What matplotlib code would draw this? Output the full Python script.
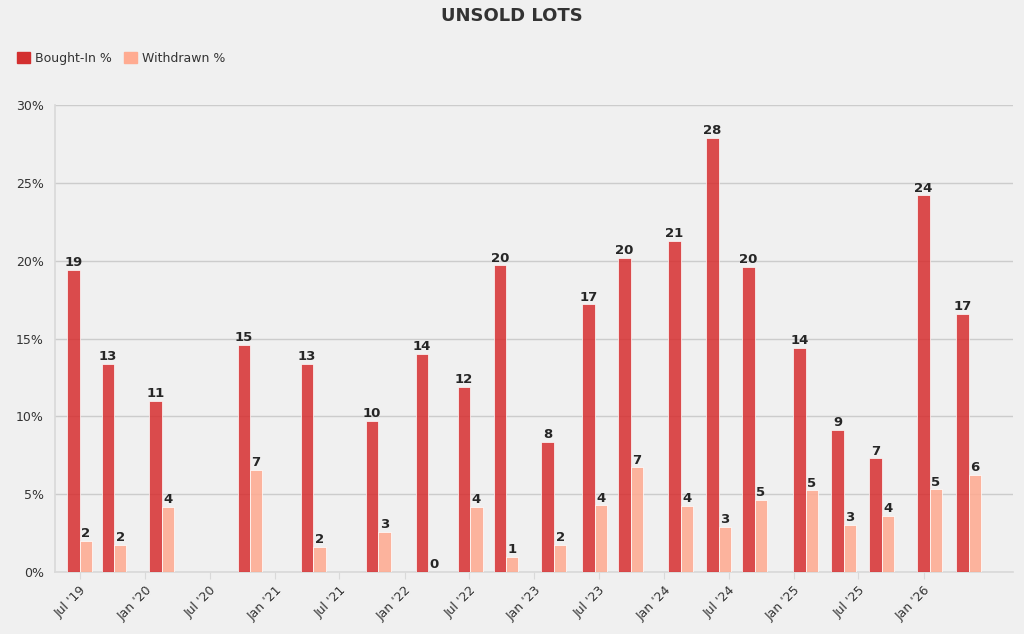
import matplotlib
matplotlib.use("Agg")
import matplotlib.pyplot as plt
import matplotlib.dates as mdates
import matplotlib.ticker as mticker
import numpy as np
import pandas as pd

# auction dates and unsold rates in %
dates = pd.to_datetime([
    "2019-07-01", "2019-10-05", "2020-02-17", "2020-10-22", "2021-04-18",
    "2021-10-18", "2022-03-08", "2022-07-04", "2022-10-13", "2023-02-25",
    "2023-06-20", "2023-09-29", "2024-02-17", "2024-06-03", "2024-09-12",
    "2025-02-03", "2025-05-21", "2025-09-05", "2026-01-18", "2026-05-08",
])
bought_in = [19.4, 13.4, 11.0, 14.6, 13.4, 9.7, 14.0, 11.9, 19.7, 8.35,
             17.2, 20.2, 21.3, 27.9, 19.6, 14.4, 9.15, 7.3, 24.2, 16.6]
withdrawn = [2.0, 1.73, 4.2, 6.55, 1.6, 2.57, 0.0, 4.2, 0.98, 1.73,
             4.28, 6.72, 4.24, 2.91, 4.62, 5.25, 3.02, 3.62, 5.31, 6.23]
tick_dates = pd.date_range("2019-07-01", "2026-01-01", freq="6MS")

BG = "#f0f0f0"
RED = "#d62728"
SALMON = "#ffa98f"

fig = plt.figure(figsize=(10.24, 6.34), dpi=100, facecolor=BG)
ax = fig.add_axes([0.0537, 0.0978, 0.9353, 0.7362], facecolor=BG)

x = mdates.date2num(dates)
w = 35  # days
b1 = ax.bar(x - w / 2, bought_in, width=w, color=RED, alpha=0.82,
            edgecolor="white", linewidth=0.6, label="Bought-In %", zorder=3)
b2 = ax.bar(x + w / 2, withdrawn, width=w, color=SALMON, alpha=0.85,
            edgecolor="white", linewidth=0.6, label="Withdrawn %", zorder=3)

for bars, vals in ((b1, bought_in), (b2, withdrawn)):
    for b, v in zip(bars, vals):
        ax.text(b.get_x() + b.get_width() / 2, v + 0.05, f"{round(v)}",
                ha="center", va="bottom", fontsize=9.5, fontweight="bold",
                color="#262626", zorder=4)

ax.set_xlim(mdates.date2num(pd.Timestamp("2019-04-22")),
            mdates.date2num(pd.Timestamp("2026-09-09")))
ax.set_ylim(0, 30)
ax.yaxis.set_major_locator(mticker.MultipleLocator(5))
ax.yaxis.set_major_formatter(mticker.FuncFormatter(lambda v, p: f"{v:.0f}%"))
ax.set_xticks(mdates.date2num(tick_dates))
ax.xaxis.set_major_formatter(mdates.DateFormatter("%b '%y"))
plt.setp(ax.get_xticklabels(), rotation=45, ha="right", rotation_mode="anchor")

ax.grid(axis="y", color="#cccccc", linewidth=1.0, zorder=0)
for s in ("top", "right"):
    ax.spines[s].set_visible(False)
for s in ("left", "bottom"):
    ax.spines[s].set_color("#d9d9d9")
    ax.spines[s].set_linewidth(1.2)
ax.tick_params(axis="y", length=0, labelsize=9, labelcolor="#333333", pad=8)
ax.tick_params(axis="x", length=5, color="#d9d9d9", labelsize=9,
               labelcolor="#333333")

fig.text(0.5, 0.975, "UNSOLD LOTS", ha="center", va="center",
         fontsize=13, fontweight="bold", color="#333333")
handles = [plt.Rectangle((0, 0), 1, 1, color="#d32f2f"),
           plt.Rectangle((0, 0), 1, 1, color="#ffab91")]
fig.legend(handles, ["Bought-In %", "Withdrawn %"], loc="center left",
           bbox_to_anchor=(0.006, 0.908), ncol=2, frameon=False,
           fontsize=9, handlelength=1.0, handleheight=1.0,
           handletextpad=0.4, columnspacing=1.0, labelcolor="#333333")

fig.savefig("out.png", dpi=100, facecolor=BG)
